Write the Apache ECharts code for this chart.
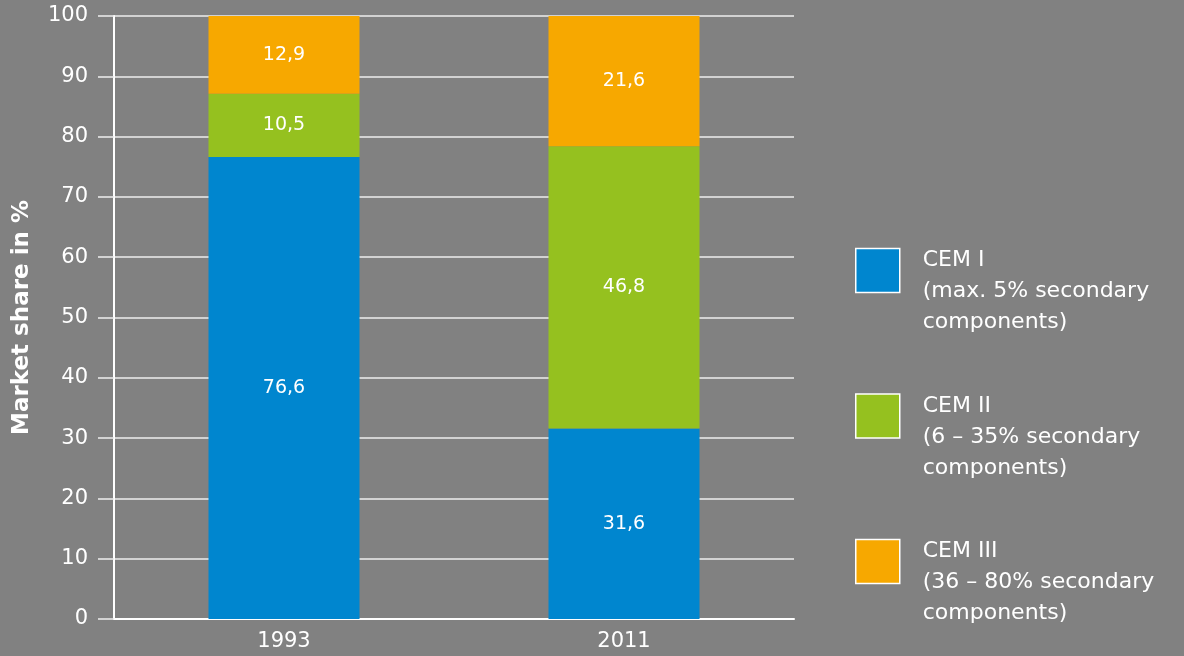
<!DOCTYPE html>
<html>
<head>
<meta charset="utf-8">
<script src="https://cdn.jsdelivr.net/npm/echarts@6/dist/echarts.min.js"></script>
<style>
  html, body { margin: 0; padding: 0; background: #818181; }
  #chart { width: 1184px; height: 656px; }
</style>
</head>
<body>
<div id="chart"></div>
<script>
var years      = ['1993', '2011'];
var seriesNames = ['CEM I', 'CEM II', 'CEM III'];
var cem1       = [76.6, 31.6];
var cem2       = [10.5, 46.8];
var cem3       = [12.9, 21.6];
var legendSub  = {
    'CEM I'   : ['(max. 5% secondary', 'components)'],
    'CEM II'  : ['(6 – 35% secondary', 'components)'],
    'CEM III' : ['(36 – 80% secondary', 'components)']
};

var blue   = '#0086cf';
var green  = '#95c11f';
var orange = '#f7a800';
var font   = 'DejaVu Sans';

var myChart = echarts.init(document.getElementById('chart'));

function barSeries(name, data, color) {
    return {
        name      : name,
        type      : 'bar',
        stack     : 'share',
        data      : data,
        barWidth  : 151,
        itemStyle : { color: color },
        label     : {
            show       : true,
            position   : 'inside',
            color      : '#fff',
            fontFamily : font,
            fontSize   : 19,
            formatter  : function (p) { return String(p.value).replace('.', ','); }
        }
    };
}

var option = {
    backgroundColor: '#818181',
    animation: false,
    grid: {
        left   : 114,
        right  : 390,
        top    : 16,
        bottom : 37,
        outerBoundsMode : 'none'
    },
    legend: {
        orient     : 'vertical',
        left       : 855,
        top        : 219,
        padding    : 0,
        itemWidth  : 44,
        itemHeight : 44,
        itemGap    : 31,
        icon       : 'rect',
        data       : seriesNames,
        itemStyle  : { borderColor: '#fff', borderWidth: 1.5 },
        formatter  : function (name) {
            var sub = legendSub[name];
            // spacer line pushes the text block down beside the square
            return '{s| }\n{t|' + name + '}\n{t|' + sub[0] + '}\n{t|' + sub[1] + '}';
        },
        textStyle  : {
            color      : '#fff',
            fontFamily : font,
            fontSize   : 22,
            padding    : [0, 0, 0, 18],
            rich : {
                s : { fontSize: 10, lineHeight: 42 },
                t : { color: '#fff', fontFamily: font, fontSize: 22, lineHeight: 31 }
            }
        }
    },
    xAxis: {
        type     : 'category',
        data     : years,
        axisLine : { lineStyle: { color: '#fff', width: 2 } },
        axisTick : { show: false },
        axisLabel: { color: '#fff', fontFamily: font, fontSize: 21, margin: 12 }
    },
    yAxis: {
        type     : 'value',
        min      : 0,
        max      : 100,
        interval : 10,
        name     : 'Market share in %',
        nameLocation : 'middle',
        nameGap  : 80,
        nameTextStyle : { color: '#fff', fontFamily: font, fontSize: 23, fontWeight: 'bold' },
        axisLine : { show: true, lineStyle: { color: '#fff', width: 2 } },
        axisTick : { show: true, length: 16, lineStyle: { color: '#eee', width: 1.5 } },
        axisLabel: { color: '#fff', fontFamily: font, fontSize: 21, margin: 26 },
        splitLine: { lineStyle: { color: '#eee', width: 1.5 } }
    },
    series: [
        barSeries(seriesNames[0], cem1, blue),
        barSeries(seriesNames[1], cem2, green),
        barSeries(seriesNames[2], cem3, orange)
    ]
};

myChart.setOption(option);
</script>
</body>
</html>
